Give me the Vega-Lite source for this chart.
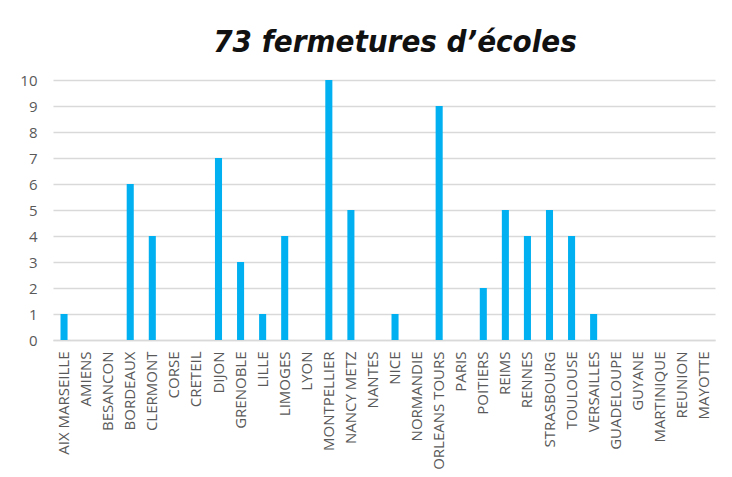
{
  "$schema": "https://vega.github.io/schema/vega-lite/v6.json",
  "width": 662,
  "height": 260,
  "autosize": {"type": "none"},
  "padding": {"left": 53, "top": 80, "right": 17, "bottom": 137},
  "background": "white",
  "title": {
    "text": "73 fermetures d’écoles",
    "font": "DejaVu Sans Condensed",
    "fontSize": 31,
    "fontWeight": 900,
    "fontStyle": "italic",
    "color": "#111111",
    "anchor": "middle",
    "dx": 11,
    "offset": 14
  },
  "data": {
    "values": [
      {"academie": "AIX MARSEILLE", "n": 1},
      {"academie": "AMIENS", "n": 0},
      {"academie": "BESANCON", "n": 0},
      {"academie": "BORDEAUX", "n": 6},
      {"academie": "CLERMONT", "n": 4},
      {"academie": "CORSE", "n": 0},
      {"academie": "CRETEIL", "n": 0},
      {"academie": "DIJON", "n": 7},
      {"academie": "GRENOBLE", "n": 3},
      {"academie": "LILLE", "n": 1},
      {"academie": "LIMOGES", "n": 4},
      {"academie": "LYON", "n": 0},
      {"academie": "MONTPELLIER", "n": 10},
      {"academie": "NANCY METZ", "n": 5},
      {"academie": "NANTES", "n": 0},
      {"academie": "NICE", "n": 1},
      {"academie": "NORMANDIE", "n": 0},
      {"academie": "ORLEANS TOURS", "n": 9},
      {"academie": "PARIS", "n": 0},
      {"academie": "POITIERS", "n": 2},
      {"academie": "REIMS", "n": 5},
      {"academie": "RENNES", "n": 4},
      {"academie": "STRASBOURG", "n": 5},
      {"academie": "TOULOUSE", "n": 4},
      {"academie": "VERSAILLES", "n": 1},
      {"academie": "GUADELOUPE", "n": 0},
      {"academie": "GUYANE", "n": 0},
      {"academie": "MARTINIQUE", "n": 0},
      {"academie": "REUNION", "n": 0},
      {"academie": "MAYOTTE", "n": 0}
    ]
  },
  "mark": {"type": "bar", "color": "#00B0F0"},
  "encoding": {
    "x": {
      "field": "academie",
      "type": "nominal",
      "sort": null,
      "title": null,
      "scale": {"paddingInner": 0.68, "paddingOuter": 0.34},
      "axis": {
        "labelAngle": -90,
        "labelAlign": "right",
        "labelBaseline": "middle",
        "labelPadding": 11,
        "labelFont": "Open Sans",
        "labelFontSize": 15,
        "labelColor": "#595959",
        "ticks": false,
        "domainColor": "#d9d9d9",
        "domainWidth": 1.3
      }
    },
    "y": {
      "field": "n",
      "type": "quantitative",
      "title": null,
      "scale": {"domain": [0, 10], "nice": false},
      "axis": {
        "values": [0, 1, 2, 3, 4, 5, 6, 7, 8, 9, 10],
        "domain": false,
        "ticks": false,
        "labelPadding": 16,
        "labelFont": "Open Sans",
        "labelFontSize": 15,
        "labelColor": "#595959",
        "gridColor": "#d9d9d9",
        "gridWidth": 1.3
      }
    }
  },
  "config": {"view": {"stroke": null}}
}
